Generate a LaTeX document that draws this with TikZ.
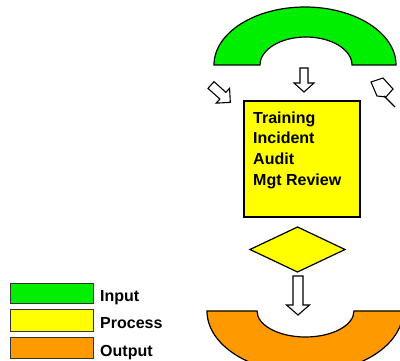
\documentclass[tikz,border=0pt]{standalone}
\usepackage{fontspec}
\setmainfont{Liberation Sans}
\definecolor{inputgreen}{HTML}{00EE00}
\definecolor{procyellow}{HTML}{FFFF00}
\definecolor{outorange}{HTML}{FF9900}
\tikzset{
  outline/.style={draw=black, line width=1.2pt, line join=miter},
  arrowline/.style={draw=black, line width=1.1pt, fill=white, line join=miter},
  keybox/.style={draw=black!80, line width=0.9pt, minimum width=83pt, anchor=north west, inner sep=0pt},
  boldtext/.style={anchor=base west, inner sep=0pt, font=\fontsize{16}{19}\selectfont\bfseries},
}
% block arrow: (x,y) tail, angle, length, head length, shaft half width, head half width, name
\newcommand\blockarrow[8]{%
  \begin{scope}[shift={(#1,#2)}, rotate=#3]
    \coordinate (#8-tail) at (0,0);
    \coordinate (#8-tip) at (#4,0);
    \path[arrowline] (0,-#6) -- ({#4-#5},-#6) -- ({#4-#5},-#7) -- (#8-tip)
      -- ({#4-#5},#7) -- ({#4-#5},#6) -- (0,#6) -- cycle;
  \end{scope}}
\begin{document}
\begin{tikzpicture}[x=1pt, y=-1pt]
  \useasboundingbox (0,0) rectangle (400,361);

  % input arch
  \path[outline, fill=inputgreen] (214,65) arc[start angle=180, end angle=360, x radius=91, y radius=58]
    -- (352,65) arc[start angle=0, end angle=-180, x radius=46, y radius=28] -- cycle;

  % output arch
  \path[outline, fill=outorange] (207,311) -- (257,311)
    arc[start angle=180, end angle=0, x radius=48.5, y radius=26]
    -- (403,311) arc[start angle=0, end angle=180, x radius=98, y radius=62] -- cycle;

  % arrows into the process box
  \blockarrow{304}{68}{-90}{24}{9}{4}{10}{ain}
  \blockarrow{211}{85}{-42}{26}{10}{4.5}{10}{aleft}
  % arrow at the right edge
  \path[arrowline] (371,82) -- (383,78) -- (393,89) -- (386,97) -- (377,96) -- cycle;
  \coordinate (aright-a) at (384,96);
  \coordinate (aright-b) at (395,107);
  \draw[line width=1.1pt] (aright-a) -- (aright-b);

  % process box
  \node[outline, fill=procyellow, minimum width=116pt, minimum height=116pt, inner sep=0pt] (proc) at (302,159) {};
  \node[boldtext] (t1) at (253,123.3) {Training};
  \node[boldtext] (t2) at (253,144) {Incident};
  \node[boldtext] (t3) at (253,164.7) {Audit};
  \node[boldtext] (t4) at (253,185.4) {Mgt Review};

  % decision diamond
  \path[outline, fill=procyellow] (297.5,227) coordinate (dtop) -- (345,249.5) coordinate (dright)
    -- (297.5,272) coordinate (dbot) -- (250,249.5) coordinate (dleft) -- cycle;

  % arrow down to the output
  \blockarrow{298}{276}{-90}{39}{10}{5}{11.5}{aout}

  % key
  \node[keybox, fill=inputgreen, minimum height=20pt] (kin) at (10,283) {};
  \node[keybox, fill=procyellow, minimum height=22pt] (kproc) at (10,309) {};
  \node[keybox, fill=outorange, minimum height=21pt] (kout) at (10,337) {};
  \node[boldtext] (lin) at (100,301.5) {Input};
  \node[boldtext] (lproc) at (100,329) {Process};
  \node[boldtext] (lout) at (100,356) {Output};
\end{tikzpicture}
\end{document}
